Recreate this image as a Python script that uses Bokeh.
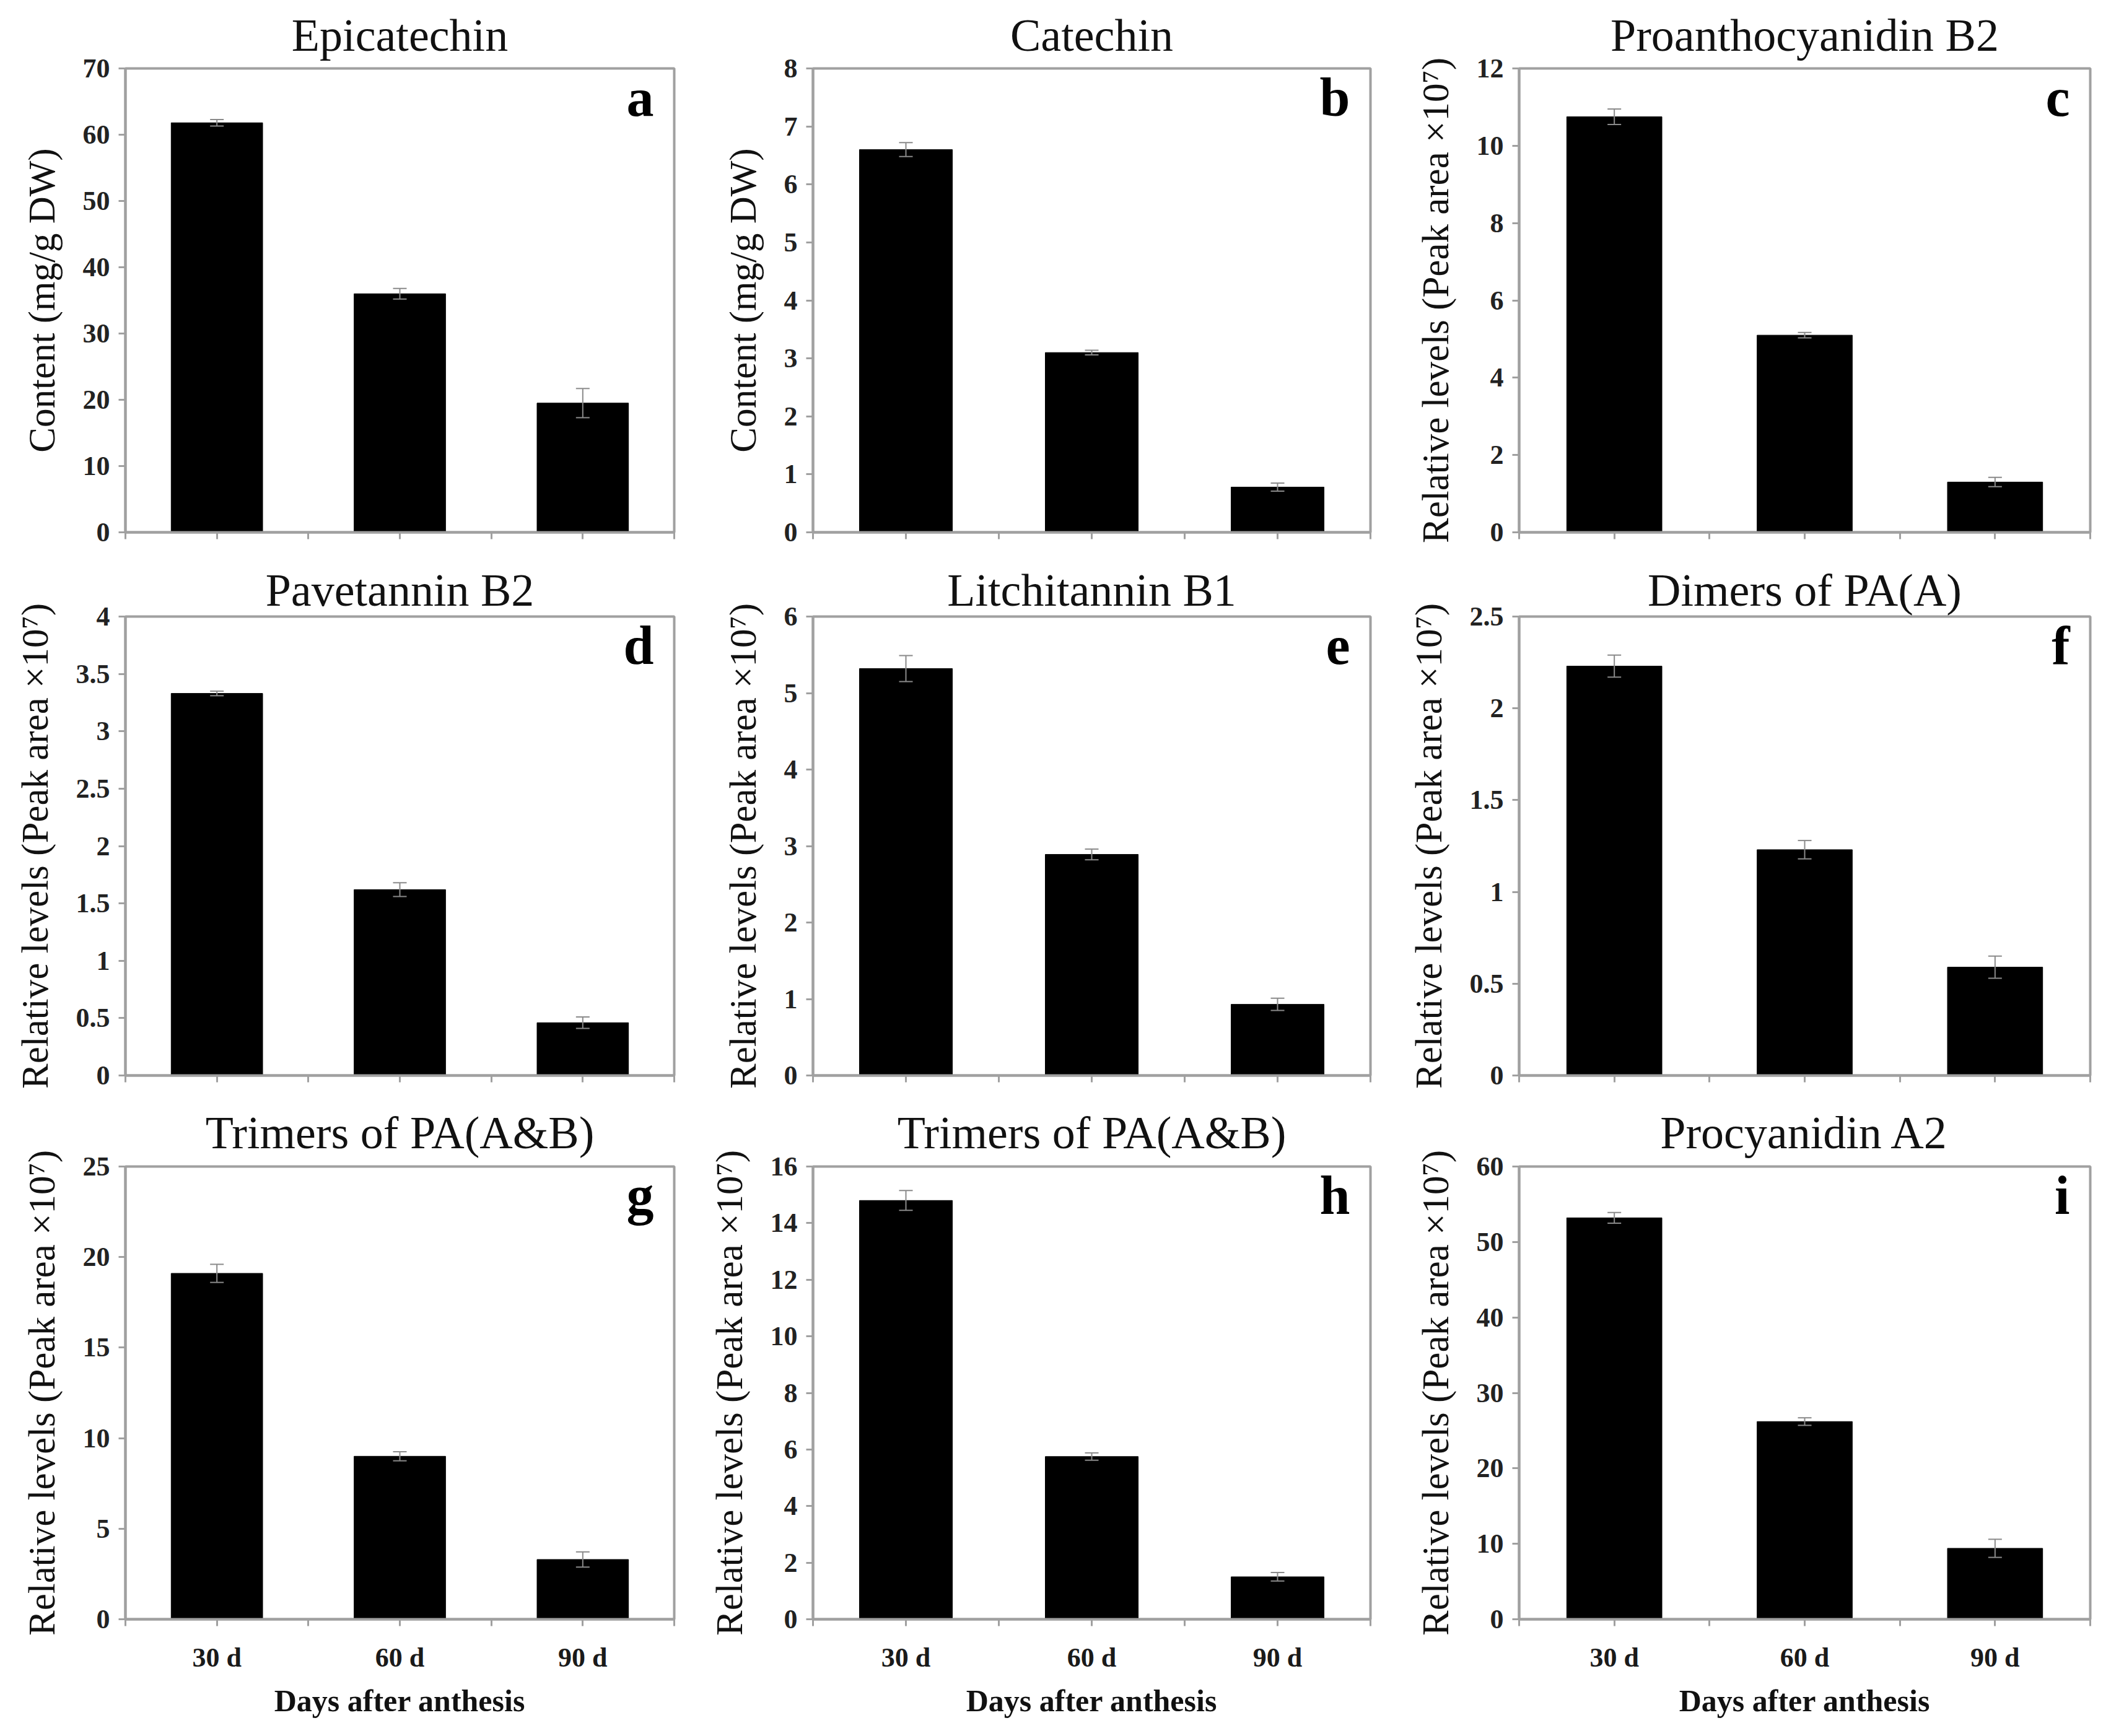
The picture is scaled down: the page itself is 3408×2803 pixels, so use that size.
from bokeh.plotting import figure
from bokeh.layouts import column, row
from bokeh.models import Range1d, FixedTicker, ColumnDataSource, Whisker, TeeHead, Label
from bokeh.embed import file_html
from bokeh.resources import INLINE

# ---------------- data ----------------
days = ["30 d", "60 d", "90 d"]
titles = ["Epicatechin", "Catechin", "Proanthocyanidin B2",
          "Pavetannin B2", "Litchitannin B1", "Dimers of PA(A)",
          "Trimers of PA(A&B)", "Trimers of PA(A&B)", "Procyanidin A2"]
letters = ["a", "b", "c", "d", "e", "f", "g", "h", "i"]
label_content = "Content (mg/g DW)"
label_relative = "Relative levels (Peak area \u00d710\u2077)"
ylabels = [label_content, label_content] + [label_relative] * 7
xlabel = "Days after anthesis"

epicatechin = [61.8, 36.0, 19.5]
epicatechin_err = [0.5, 0.8, 2.2]
catechin = [6.6, 3.1, 0.78]
catechin_err = [0.12, 0.04, 0.07]
proanthocyanidin_b2 = [10.75, 5.1, 1.3]
proanthocyanidin_b2_err = [0.2, 0.07, 0.12]
pavetannin_b2 = [3.33, 1.62, 0.46]
pavetannin_b2_err = [0.02, 0.06, 0.05]
litchitannin_b1 = [5.32, 2.89, 0.93]
litchitannin_b1_err = [0.17, 0.07, 0.08]
dimers_pa_a = [2.23, 1.23, 0.59]
dimers_pa_a_err = [0.06, 0.05, 0.06]
trimers_pa_g = [19.1, 9.0, 3.3]
trimers_pa_g_err = [0.5, 0.25, 0.42]
trimers_pa_h = [14.8, 5.75, 1.5]
trimers_pa_h_err = [0.35, 0.13, 0.15]
procyanidin_a2 = [53.2, 26.2, 9.4]
procyanidin_a2_err = [0.7, 0.5, 1.2]

values = [epicatechin, catechin, proanthocyanidin_b2, pavetannin_b2, litchitannin_b1,
          dimers_pa_a, trimers_pa_g, trimers_pa_h, procyanidin_a2]
errors = [epicatechin_err, catechin_err, proanthocyanidin_b2_err, pavetannin_b2_err,
          litchitannin_b1_err, dimers_pa_a_err, trimers_pa_g_err, trimers_pa_h_err,
          procyanidin_a2_err]
y_max = [70, 8, 12, 4, 6, 2.5, 25, 16, 60]
y_step = [10, 1, 2, 0.5, 1, 0.5, 5, 2, 10]

# ---------------- styling / layout ----------------
SERIF = "Liberation Serif"
GRAY = "#a0a0a0"
col_w = [(202, 886, 24), (200, 900, 20), (220, 922, 18)]
row_h = [(101, 758, 36), (100, 741, 36), (102, 740, 174)]
title_standoff = [26, 4, 27]


def make_panel(i):
    r, c = divmod(i, 3)
    lb, fw, rb = col_w[c]
    tb, fh, bb = row_h[r]
    n = len(days)
    xs = list(range(1, n + 1))
    p = figure(width=lb + fw + rb, height=tb + fh + bb,
               x_range=Range1d(0.5, n + 0.5), y_range=Range1d(0, y_max[i]),
               output_backend="svg", toolbar_location=None,
               min_border_left=lb, min_border_right=rb,
               min_border_top=tb, min_border_bottom=bb)
    p.grid.visible = False
    p.outline_line_color = GRAY
    p.outline_line_width = 4
    p.background_fill_color = "white"
    p.border_fill_color = "white"

    p.title.text = titles[i]
    p.title.align = "center"
    p.title.text_font = SERIF
    p.title.text_font_style = "normal"
    p.title.text_font_size = "74px"
    p.title.text_color = "#111111"
    p.title.standoff = title_standoff[r]

    vals = values[i]
    errs = errors[i]
    src = ColumnDataSource(dict(x=xs, top=vals,
                                upper=[v + e for v, e in zip(vals, errs)],
                                lower=[v - e for v, e in zip(vals, errs)]))
    p.vbar(x="x", top="top", width=0.5, bottom=0, source=src,
           fill_color="black", line_color="black")
    w = Whisker(base="x", upper="upper", lower="lower", source=src,
                line_color="#8a8a8a", line_width=2, level="annotation",
                upper_head=TeeHead(size=22, line_color="#8a8a8a", line_width=2),
                lower_head=TeeHead(size=22, line_color="#8a8a8a", line_width=2))
    p.add_layout(w)

    # y axis
    step = y_step[i]
    nt = int(round(y_max[i] / step))
    yt = [k * step for k in range(nt + 1)]
    ya = p.yaxis[0]
    ya.ticker = FixedTicker(ticks=yt)
    ya.major_label_overrides = {t: f"{t:g}" for t in yt}
    ya.minor_tick_line_color = None
    ya.major_tick_in = 0
    ya.major_tick_out = 11
    ya.major_tick_line_color = GRAY
    ya.major_tick_line_width = 3
    ya.axis_line_color = GRAY
    ya.axis_line_width = 4
    ya.major_label_text_font = SERIF
    ya.major_label_text_font_style = "bold"
    ya.major_label_text_font_size = "44px"
    ya.major_label_text_color = "#222222"
    ya.major_label_standoff = 14
    ya.axis_label = ylabels[i]
    ya.axis_label_text_font = SERIF
    ya.axis_label_text_font_style = "normal"
    ya.axis_label_text_font_size = "61px"
    ya.axis_label_text_color = "#111111"
    ya.axis_label_standoff = 30

    # x axis
    xt = [0.5 + 0.5 * k for k in range(2 * n + 1)]
    xa = p.xaxis[0]
    xa.ticker = FixedTicker(ticks=xt)
    xa.minor_tick_line_color = None
    xa.major_tick_in = 0
    xa.major_tick_out = 11
    xa.major_tick_line_color = GRAY
    xa.major_tick_line_width = 3
    xa.axis_line_color = GRAY
    xa.axis_line_width = 4
    if r == 2:
        xa.major_label_overrides = {t: (days[int(t) - 1] if float(t).is_integer() else "")
                                    for t in xt}
        xa.major_label_text_font = SERIF
        xa.major_label_text_font_style = "bold"
        xa.major_label_text_font_size = "44px"
        xa.major_label_text_color = "#1a1a1a"
        xa.major_label_standoff = 26
        xa.axis_label = xlabel
        xa.axis_label_text_font = SERIF
        xa.axis_label_text_font_style = "bold"
        xa.axis_label_text_font_size = "50px"
        xa.axis_label_text_color = "#111111"
        xa.axis_label_standoff = 14
    else:
        xa.major_label_overrides = {t: "" for t in xt}
        xa.major_label_text_font_size = "1px"
        xa.major_label_standoff = 0

    lab = Label(x=n + 0.5, y=y_max[i], text=letters[i], text_align="right",
                text_baseline="alphabetic", x_offset=-33, y_offset=-47,
                text_font=SERIF, text_font_style="bold", text_font_size="88px",
                text_color="black")
    p.add_layout(lab)
    return p


panels = [make_panel(i) for i in range(9)]
layout = column(row(*panels[0:3]), row(*panels[3:6]), row(*panels[6:9]))

open("out.html", "w").write(file_html(layout, INLINE))
